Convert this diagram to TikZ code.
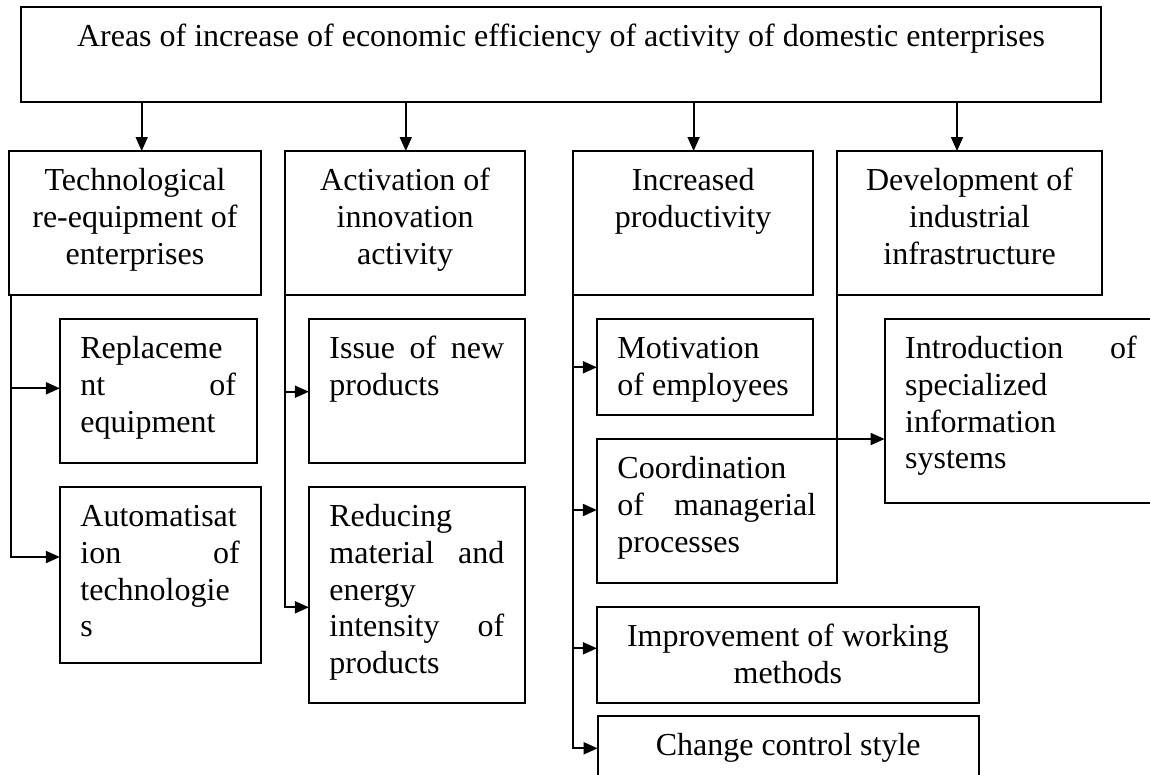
\documentclass[tikz,border=0pt]{standalone}
\usepackage{fontspec}
\setmainfont{Liberation Serif}
\usetikzlibrary{arrows.meta}
\tikzset{
  bx/.style={draw, line width=2pt, inner sep=0pt, outer sep=0pt, anchor=north west,
    font=\fontsize{32pt}{36.8pt}\selectfont},
  topbx/.style={bx, line width=2.4pt},
  arr/.style={line width=1.8pt, -{Triangle[length=14pt,width=12pt]}},
}
\newcommand{\mkbox}[7][bx]{\node[#1] (#2) at (#3,#4) {\parbox[c][\dimexpr #6pt-#4pt\relax][t]{\dimexpr #5pt-#3pt\relax}{#7}};}
\newcommand{\ctext}[1]{\vspace*{13.7pt}\centering\strut #1\par}
\newcommand{\ltext}[1]{\vspace*{13.7pt}\leftskip=20.5pt\rightskip=21pt plus 1fil\parindent=0pt\strut #1\par}
\begin{document}
\begin{tikzpicture}[x=1pt,y=-1pt]
\useasboundingbox (0,0) rectangle (1150,774);
\clip (0,0) rectangle (1150,774);
% top box
\mkbox[topbx]{top}{21}{7}{1101}{102}{\ctext{Areas of increase of economic efficiency of activity of domestic enterprises}}
% level 2
\mkbox{b1}{9.2}{151}{260.8}{295}{\ctext{Technological\\re-equipment of\\enterprises}}
\mkbox{b2}{284.8}{151}{525.3}{295}{\ctext{Activation of\\innovation\\activity}}
\mkbox{b3}{573.2}{151}{813.2}{295}{\ctext{Increased\\productivity}}
\mkbox{b4}{837.3}{151}{1101.8}{295}{\ctext{Development of\\industrial\\infrastructure}}
% column 1
\mkbox{rep}{59.9}{319}{257.1}{463}{\ltext{Replaceme\\nt\hfill of\\equipment}}
\mkbox{auto}{59.9}{487}{260.8}{663}{\ltext{Automatisat\\ion\hfill of\\technologie\\s}}
% column 2
\mkbox{iss}{308.9}{319}{525.3}{463}{\ltext{Issue\hfill of\hfill new\\products}}
\mkbox{red}{308.9}{487}{525.3}{703}{\ltext{Reducing\\material\hfill and\\energy\\intensity\hfill of\\products}}
% column 3
\mkbox{mot}{596.9}{319}{812.9}{415}{\ltext{Motivation\\of employees}}
\mkbox{coo}{596.9}{439}{837.3}{583}{\ltext{Coordination\\of\hfill managerial\\processes}}
\mkbox{imp}{596.9}{607.3}{978.8}{702.7}{\ctext{Improvement of working\\methods}}
\mkbox{chg}{597.6}{716}{978.8}{800}{\ctext{Change control style}}
% column 4
\mkbox{intro}{884.6}{319}{1157.7}{503}{\ltext{Introduction\hfill of\\specialized\\information\\systems}}
% top arrows
\coordinate (t1) at (141.7,0);
\coordinate (t2) at (405.8,0);
\coordinate (t3) at (693.6,0);
\coordinate (t4) at (957,0);
\draw[arr] (top.south -| t1) -- (b1.north -| t1);
\draw[arr] (top.south -| t2) -- (b2.north -| t2);
\draw[arr] (top.south -| t3) -- (b3.north -| t3);
\draw[arr] (top.south -| t4) -- (b4.north -| t4);
% column 1 connectors
\coordinate (k1) at (11,557);
\coordinate (k1a) at (11,388.3);
\draw[arr] (b1.south -| k1) |- (auto.west |- k1);
\draw[arr] (k1a) -- (rep.west |- k1a);
% column 2 connectors
\coordinate (k2) at (284.8,607.3);
\coordinate (k2a) at (284.8,391.7);
\draw[arr] (b2.south west) |- (red.west |- k2);
\draw[arr] (k2a) -- (iss.west |- k2a);
% column 3 connectors
\coordinate (k3) at (573.2,748.3);
\coordinate (k3a) at (573.2,367.3);
\coordinate (k3b) at (573.2,510);
\coordinate (k3c) at (573.2,648.3);
\draw[arr] (b3.south west) |- (chg.west |- k3);
\draw[arr] (k3a) -- (mot.west |- k3a);
\draw[arr] (k3b) -- (coo.west |- k3b);
\draw[arr] (k3c) -- (imp.west |- k3c);
% column 4 connector
\draw[arr] (b4.south west) |- (intro.west |- coo.north);
\end{tikzpicture}
\end{document}
